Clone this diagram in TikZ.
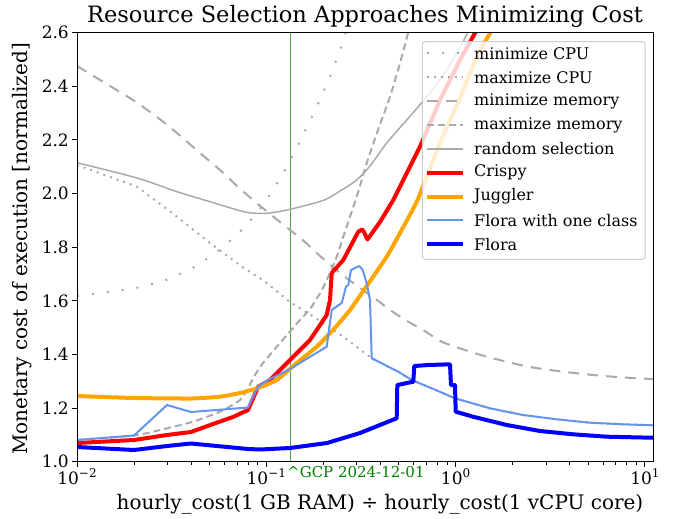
\documentclass[tikz,border=0pt]{standalone}
\usepackage{fontspec}
\setmainfont{DejaVu Serif}
\definecolor{cgray}{HTML}{AAAAAA}
\definecolor{ccrispy}{HTML}{FF0000}
\definecolor{cjuggler}{HTML}{FFA500}
\definecolor{cfloraone}{HTML}{6495ED}
\definecolor{cflora}{HTML}{0000FF}
\definecolor{cgcpline}{HTML}{4CA64C}
\definecolor{cgcptext}{HTML}{008000}
\definecolor{clegframe}{HTML}{CCCCCC}
\tikzset{
  fticks/.style={font=\fontsize{17bp}{20bp}\selectfont},
  flegend/.style={font=\fontsize{16bp}{19bp}\selectfont},
  flabel/.style={font=\fontsize{20bp}{23bp}\selectfont},
  ftitle/.style={font=\fontsize{22.5bp}{26bp}\selectfont},
  mincpu/.style={cgray, line width=2bp, dash pattern=on 2bp off 13bp},
  maxcpu/.style={cgray, line width=2bp, dash pattern=on 2bp off 5bp},
  minmem/.style={cgray, line width=2bp, dash pattern=on 11bp off 8bp},
  maxmem/.style={cgray, line width=2bp, dash pattern=on 7bp off 4bp},
  randsel/.style={cgray, line width=1.5bp},
  crispy/.style={ccrispy, line width=4bp, line join=round},
  juggler/.style={cjuggler, line width=4bp, line join=round},
  floraone/.style={cfloraone, line width=2bp, line join=round},
  flora/.style={cflora, line width=4bp, line join=round},
  majtick/.style={line width=1bp, black},
}
\begin{document}
\begin{tikzpicture}[x=1bp, y=-1bp]
\useasboundingbox (0,0) rectangle (675,519);
% title
\node[ftitle, inner sep=0] (title) at (365,16) {Resource Selection Approaches Minimizing Cost};
% data
\begin{scope}
\clip (77,32.8) rectangle (653.3,461.7);
\draw[cgcpline, line width=1bp] (290.7,32.8) -- (290.7,461.7);
% minimize CPU
\draw[mincpu] (77,296) -- (107,292) -- (136,288) -- (164,281) -- (191,269) -- (214.7,253.7) -- (237,235) -- (257,213) -- (273.7,189.3) -- (288,164.7) -- (295,151.7) -- (320,100) -- (331.7,72.7) -- (341.7,45) -- (348,25);
% maximize CPU
\draw[maxcpu] (77,165) -- (137,186.7) -- (177,216.7) -- (210,243) -- (243.7,268) -- (263,280) -- (290,302) -- (317,319) -- (345,338) -- (371.7,358.3) -- (398.3,371.7) -- (411.7,380) -- (431.7,388.3) -- (455,398.3) -- (490,408.3) -- (523,415) -- (556.7,419.3) -- (590,422.7) -- (623,424.3) -- (653,425.3);
% minimize memory
\draw[minmem] plot[smooth, tension=0.4] coordinates {(77,66) (100,80) (133,100) (157,117) (177,133) (200,153) (220,170) (237,186) (253,200) (270,214) (290,230) (305,242) (320,256) (340,273) (360,288) (377,300) (390,310) (407,321) (423,330) (441.7,341.7) (465,350) (486.7,356.7) (506.7,361.7) (528,366.7) (550,370) (571.7,372.7) (593,375) (613,376.7) (636.7,378.3) (654,379)};
% maximize memory
\draw[maxmem] plot[smooth, tension=0.4] coordinates {(77,440) (134,435.5) (160,430) (193,421.7) (220,411.7) (240,400) (248,388) (255,375) (263,363) (280,343) (300,320) (310,309) (320,293.3) (328.3,276.7) (336.7,256.7) (343.3,236.7) (350,216.7) (356.7,196.7) (361.7,180) (366.7,163) (378,130) (390,96.7) (400,63) (408,33) (411,20)};
% random selection
\draw[randsel] plot[smooth, tension=0.5] coordinates {(77,162.7) (137,178) (177,191.7) (210,201.7) (243.7,211.7) (257,213.3) (270,213) (290,209.3) (323,200.5) (340,191) (356.7,180) (370,166) (386.7,143) (406.7,120) (426.7,96.7) (446.7,70) (466.7,35) (470,28)};
% Crispy
\draw[crispy] (77,443) -- (134,440) -- (167,435) -- (191,432) -- (213,424) -- (233,417) -- (248,410) -- (258,387) -- (270,380) -- (290,360) -- (310,340) -- (326.7,315) -- (330,300) -- (331.7,273) -- (343.3,260) -- (358.3,231.7) -- (362,229.5) -- (364,232) -- (367.5,239.5) -- (380,222) -- (393.3,200) -- (420,146.7) -- (440,100) -- (460,60) -- (476.7,30) -- (478,25);
% Juggler
\draw[juggler] plot[smooth, tension=0.3] coordinates {(77,396) (134,398) (191,398.5) (220,396.7) (240,393) (258,388) (276.7,380) (296.7,363) (316.7,346.7) (333,330) (350,310) (366.7,286) (386.7,256.7) (400,233) (417.5,200) (440,143) (460,98) (476.7,57) (491.7,30) (494,24)};
% Flora with one class
\draw[floraone] (77,440) -- (134,435.5) -- (167,405) -- (191,412) -- (248,407.5) -- (258,386.7) -- (268,380) -- (290,369) -- (326.7,346.7) -- (331.7,310) -- (341.7,303) -- (346,286.7) -- (348.3,285) -- (351,270) -- (359.3,266) -- (362.7,270) -- (366.7,283.3) -- (370,300) -- (371.7,358.3) -- (398.3,371.7) -- (411.7,380) -- (431.7,388.3) -- (455,398.3) -- (490,408.3) -- (523,415) -- (556.7,419.3) -- (590,422.7) -- (623,424.3) -- (656,425.4);
% Flora
\draw[flora] (77,447) -- (134,450) -- (167,446) -- (191,443.5) -- (248,449) -- (260,449.5) -- (290,448) -- (327,443) -- (360,433) -- (396.7,418.3) -- (397.3,385) -- (413.3,381.7) -- (414.3,366) -- (428.3,365) -- (450,364.3) -- (451,385) -- (455,385) -- (455.7,411.7) -- (473,416.7) -- (506.7,425) -- (540,431) -- (573,434.3) -- (606.7,436.7) -- (656,437.8);
\end{scope}
% axes frame
\draw[line width=1bp] (77,32.8) rectangle (653.3,461.7);
% y ticks
\foreach \v/\lab in {1.0/1.0,1.2/1.2,1.4/1.4,1.6/1.6,1.8/1.8,2.0/2.0,2.2/2.2,2.4/2.4,2.6/2.6}{
  \pgfmathsetmacro{\py}{461.7-(\v-1)*268.1}
  \draw[majtick] (77,\py) -- (72,\py);
  \node[fticks, anchor=east, inner sep=0] at (69,\py) {\lab};
}
% x major ticks
\foreach \k/\e in {0/−2,1/−1,2/0,3/1}{
  \pgfmathsetmacro{\px}{77+189.3*\k}
  \draw[majtick] (\px,461.7) -- (\px,466.7);
  \node[fticks, anchor=north, inner sep=0] at (\px,468) {10\raisebox{0.42em}{\fontsize{12bp}{13bp}\selectfont \e}};
}
% x minor ticks
\foreach \k in {0,1,2}{
  \foreach \m in {2,...,9}{
    \pgfmathsetmacro{\px}{77+189.3*\k+189.3*ln(\m)/ln(10)}
    \draw[line width=0.8bp] (\px,461.7) -- (\px,464.5);
  }
}
% GCP label
\node[text=cgcptext, anchor=west, inner sep=0, font=\fontsize{15bp}{18bp}\selectfont] (gcp) at (287,472) {\textasciicircum GCP 2024-12-01};
% axis labels
\node[flabel, inner sep=0] (xlab) at (380,504) {hourly\_cost(1 GB RAM) ÷ hourly\_cost(1 vCPU core)};
\node[flabel, inner sep=0, rotate=90] (ylab) at (22,249) {Monetary cost of execution [normalized]};
% legend
\draw[clegframe, line width=1bp, fill=white, fill opacity=0.8, rounded corners=3bp] (422.3,41.7) rectangle (645,259.3);
\foreach \i/\sty/\txt in {0/mincpu/minimize CPU,1/maxcpu/maximize CPU,2/minmem/minimize memory,3/maxmem/maximize memory,4/randsel/random selection,5/crispy/Crispy,6/juggler/Juggler,7/floraone/Flora with one class,8/flora/Flora}{
  \pgfmathsetmacro{\ly}{53.3+23.88*\i}
  \draw[\sty] (427,\ly) -- (463,\ly);
  \node[flegend, anchor=west, inner sep=0] at (474,\ly) {\txt};
}
\end{tikzpicture}
\end{document}
